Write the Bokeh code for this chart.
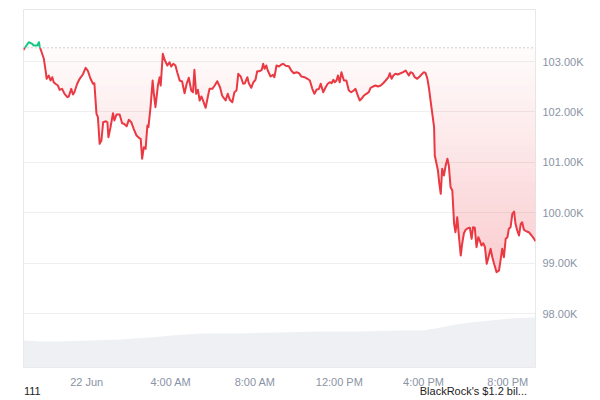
import numpy as np
import pandas as pd
from bokeh.plotting import figure
from bokeh.models import FixedTicker, Span, Range1d, DatetimeAxis
from bokeh.embed import file_html
from bokeh.resources import INLINE

# ---------------- data ----------------
start_time = "2025-06-21 21:00"
baseline_price = 103272

minutes = [
    0, 15, 25, 29, 39, 44, 46, 50, 58, 63,
    66, 72, 77, 82, 86, 91, 98, 103, 110, 117,
    125, 129, 136, 141, 145, 153, 160, 169, 177, 183,
    191, 198, 202, 208, 212, 217, 222, 227, 235, 239,
    242, 248, 255, 259, 265, 274, 281, 286, 294, 300,
    307, 314, 322, 329, 334, 338, 343, 348, 353, 356,
    362, 368, 371, 376, 383, 388, 391, 397, 403, 410,
    416, 421, 427, 433, 438, 445, 452, 459, 465, 471,
    478, 483, 487, 492, 497, 502, 507, 511, 519, 525,
    530, 538, 545, 552, 560, 566, 569, 576, 582, 588,
    595, 601, 607, 612, 619, 626, 631, 638, 642, 649,
    655, 661, 666, 673, 679, 683, 687, 692, 696, 704,
    711, 715, 721, 728, 735, 740, 747, 756, 763, 770,
    778, 785, 792, 801, 809, 816, 823, 829, 835, 842,
    847, 854, 861, 867, 873, 878, 883, 887, 892, 896,
    901, 906, 913, 920, 927, 934, 941, 946, 951, 958,
    963, 970, 977, 984, 989, 996, 1003, 1010, 1018, 1025,
    1032, 1040, 1044, 1049, 1054, 1060, 1067, 1075, 1082, 1089,
    1094, 1098, 1103, 1109, 1115, 1122, 1129, 1136, 1141, 1146,
    1151, 1155, 1160, 1165, 1170, 1172, 1177, 1181, 1185, 1189,
    1193, 1198, 1203, 1208, 1212, 1217, 1222, 1227, 1231, 1236,
    1241, 1246, 1250, 1255, 1260, 1266, 1272, 1277, 1281, 1286,
    1291, 1296, 1301, 1305, 1310, 1315, 1320, 1325, 1331, 1336,
    1341, 1348, 1355, 1360, 1364, 1369, 1374, 1379, 1383, 1388,
    1393, 1398, 1402, 1407, 1412, 1417, 1421, 1426, 1434, 1440,
    1448, 1455, 1459,
]

price = [
    103232, 103383, 103351, 103317, 103317, 103383, 103298, 103218, 103054, 102821,
    102657, 102722, 102623, 102689, 102589, 102558, 102524, 102439, 102458, 102359,
    102292, 102306, 102458, 102345, 102391, 102558, 102657, 102742, 102875, 102821,
    102657, 102558, 102569, 101962, 101895, 101367, 101433, 101796, 101816, 101796,
    101498, 101697, 101974, 101829, 101948, 101948, 101776, 101764, 101716, 101843,
    101796, 101665, 101532, 101486, 101466, 101070, 101300, 101268, 101730, 101697,
    102093, 102623, 102391, 102093, 102524, 102689, 102524, 103153, 103020, 102921,
    102986, 102901, 102954, 102921, 102788, 102623, 102603, 102371, 102558, 102677,
    102425, 102391, 102835, 102359, 102439, 102226, 102306, 102240, 102081, 102292,
    102458, 102458, 102524, 102609, 102490, 102325, 102292, 102226, 102359, 102240,
    102193, 102391, 102425, 102756, 102702, 102558, 102569, 102689, 102569, 102478,
    102589, 102637, 102808, 102808, 102835, 102954, 102855, 102921, 102821, 102702,
    102736, 102689, 102921, 102901, 102940, 102954, 102915, 102907, 102821, 102768,
    102788, 102768, 102702, 102689, 102657, 102623, 102458, 102359, 102439, 102458,
    102558, 102391, 102490, 102558, 102589, 102569, 102637, 102589, 102623, 102722,
    102589, 102788, 102623, 102623, 102425, 102391, 102425, 102458, 102359, 102226,
    102260, 102325, 102359, 102391, 102478, 102504, 102524, 102504, 102524, 102569,
    102623, 102689, 102768, 102657, 102722, 102756, 102742, 102768, 102788, 102821,
    102768, 102722, 102788, 102768, 102689, 102657, 102702, 102756, 102788, 102768,
    102657, 102490, 102226, 101962, 101697, 101135, 100970, 100837, 100574, 100375,
    100871, 100738, 100937, 101070, 100937, 100506, 100441, 99780, 99613, 99911,
    99514, 99151, 99383, 99593, 99661, 99693, 99701, 99482, 99713, 99701,
    99316, 99514, 99435, 99349, 99395, 99316, 98986, 99117, 99284, 99117,
    98986, 98820, 98853, 99085, 99284, 99117, 99482, 99514, 99681, 99713,
    99978, 100024, 99780, 99647, 99548, 99780, 99812, 99661, 99627, 99613,
    99548, 99482, 99435,
]

vol_minutes = [0, 48, 105, 191, 276, 362, 422, 504, 618, 732, 846, 960,
               1075, 1140, 1189, 1231, 1274, 1331, 1388, 1445, 1459]
vol_billions = [15.1, 14.5, 14.5, 15.1, 15.6, 16.8, 17.9, 19.0, 19.0, 19.6, 20.1, 20.1,
                20.7, 20.7, 22.3, 24.0, 25.1, 26.3, 27.4, 27.9, 27.9]

x_tick_times = ["2025-06-22 00:00", "2025-06-22 04:00", "2025-06-22 08:00",
                "2025-06-22 12:00", "2025-06-22 16:00", "2025-06-22 20:00"]
x_tick_labels = ["22 Jun", "4:00 AM", "8:00 AM", "12:00 PM", "4:00 PM", "8:00 PM"]
y_ticks = [98000, 99000, 100000, 101000, 102000, 103000]
y_tick_labels = ["98.00K", "99.00K", "100.00K", "101.00K", "102.00K", "103.00K"]

news_times = ["2025-06-21 21:25", "2025-06-22 18:22"]
news_texts = ["111", "BlackRock's $1.2 bil..."]

# ---------------- styles ----------------
RED = "#ea3943"
GREEN = "#16c784"
AXIS_TEXT = "#8a93a5"
FONT = "Liberation Sans"

# ---------------- preparation ----------------
t0 = pd.Timestamp(start_time)
mins = np.array(minutes, dtype=float)
pr = np.array(price, dtype=float)

# insert the crossing points with the baseline so both colours meet exactly
rm, rp = [mins[0]], [pr[0]]
for i in range(1, len(mins)):
    a, b = pr[i - 1] - baseline_price, pr[i] - baseline_price
    if a * b < 0:
        f = a / (a - b)
        rm.append(mins[i - 1] + f * (mins[i] - mins[i - 1]))
        rp.append(float(baseline_price))
    rm.append(mins[i])
    rp.append(pr[i])
rm = np.array(rm)
rp = np.array(rp)
rt = t0 + pd.to_timedelta(rm, unit="m")

red_y = np.where(rp <= baseline_price + 1e-6, rp, np.nan)
green_y = np.where(rp >= baseline_price - 1e-6, rp, np.nan)

vt = t0 + pd.to_timedelta(np.array(vol_minutes, dtype=float), unit="m")


def to_ms(s):
    return int(pd.Timestamp(s).value // 10**6)


tick_ms = [to_ms(s) for s in x_tick_times]
news_ms = [to_ms(s) for s in news_times]

# ---------------- figure ----------------
p = figure(
    width=600, height=400,
    x_axis_type="datetime", y_axis_location="right",
    x_range=Range1d(t0, t0 + pd.Timedelta(minutes=minutes[-1])),
    y_range=Range1d(96929, 104032),
    output_backend="svg", toolbar_location=None,
    min_border_left=23, min_border_top=9, min_border_bottom=33, min_border_right=65,
    background_fill_color="white", border_fill_color="white",
)
p.extra_y_ranges = {"vol": Range1d(0, 200)}

# volume
p.varea(x=vt, y1=0, y2=np.array(vol_billions), y_range_name="vol",
        fill_color="#eef0f4", fill_alpha=1.0)

# gradient fill between the line and the baseline (horizontal bands)
pmin = float(rp.min())
n_bands = 30
edges = np.linspace(pmin, baseline_price, n_bands + 1)
for i in range(n_bands):
    lo, hi = edges[i], edges[i + 1]
    depth = (baseline_price - (lo + hi) / 2) / (baseline_price - pmin)
    alpha = 0.015 + 0.24 * depth
    y1 = np.minimum(np.maximum(rp, lo), hi)
    p.varea(x=rt, y1=y1, y2=np.full_like(y1, hi), fill_color=RED, fill_alpha=alpha)

# baseline
p.add_layout(Span(location=baseline_price, dimension="width", line_color="#9ba1ab",
                  line_width=1, line_dash="1 3"))

# price line
p.line(rt, red_y, line_color=RED, line_width=2, line_join="round")
p.line(rt, green_y, line_color=GREEN, line_width=2, line_join="round")

# axes
xa = p.xaxis[0]
xa.ticker = FixedTicker(ticks=tick_ms)
xa.major_label_overrides = {ms: lab for ms, lab in zip(tick_ms, x_tick_labels)}
ya = p.yaxis[0]
ya.ticker = FixedTicker(ticks=y_ticks)
ya.major_label_overrides = {v: lab for v, lab in zip(y_ticks, y_tick_labels)}

# news row under the time axis
news_axis = DatetimeAxis(ticker=FixedTicker(ticks=news_ms),
                         major_label_overrides={ms: t for ms, t in zip(news_ms, news_texts)})
p.add_layout(news_axis, "below")

for ax, standoff in ((xa, 8), (ya, 7), (news_axis, -6)):
    ax.axis_line_color = None
    ax.major_tick_line_color = None
    ax.minor_tick_line_color = None
    ax.major_tick_out = 0
    ax.major_tick_in = 0
    ax.minor_tick_out = 0
    ax.major_label_text_color = AXIS_TEXT
    ax.major_label_text_font = FONT
    ax.major_label_text_font_size = "11px"
    ax.major_label_standoff = standoff
ya.major_label_text_align = "left"
news_axis.major_label_text_color = "#222222"

p.xgrid.visible = False
p.ygrid.grid_line_color = "#efefef"
p.outline_line_color = "#e8e8e8"

open("out.html", "w").write(file_html(p, INLINE))
